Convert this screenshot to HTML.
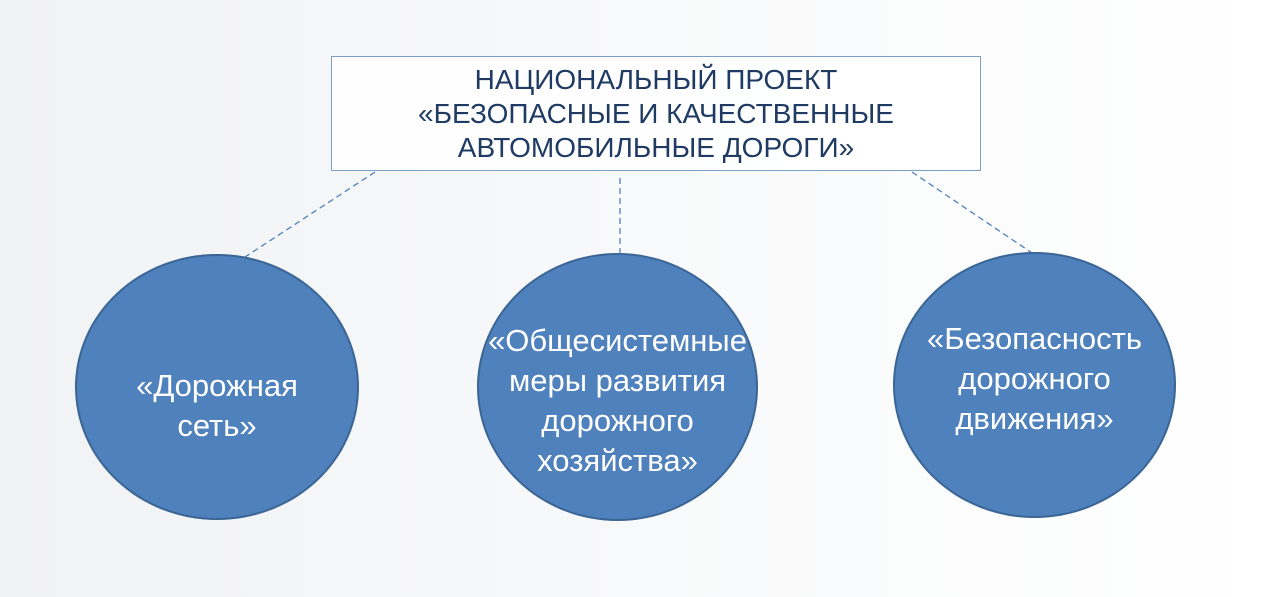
<!DOCTYPE html>
<html><head><meta charset="utf-8"><style>
html,body{margin:0;padding:0;}
body{width:1280px;height:597px;overflow:hidden;background:linear-gradient(90deg,#f1f2f4 0%,#f8f9fa 50%,#ffffff 100%);font-family:"Liberation Sans",sans-serif;position:relative;}
.box{position:absolute;left:331px;top:56px;width:650px;height:115px;border:1.5px solid #7f9ec5;background:rgba(255,255,255,0.85);box-sizing:border-box;display:flex;align-items:center;justify-content:center;text-align:center;color:#1f3a63;font-size:28px;line-height:34px;}
.c{position:absolute;border-radius:50%;background:#4f81bd;border:2px solid #3a6595;box-sizing:border-box;display:flex;align-items:center;justify-content:center;text-align:center;color:#fff;font-size:31px;line-height:40px;white-space:nowrap;}
svg{position:absolute;left:0;top:0;}
</style></head><body>
<svg width="1280" height="597"><g stroke="#4f81bd" stroke-width="1.3" stroke-dasharray="6,4" fill="none">
<line x1="375" y1="172" x2="245" y2="257"/>
<line x1="620" y1="178" x2="620" y2="253"/>
<line x1="912" y1="172" x2="1035" y2="255"/>
</g></svg>
<div class="box">НАЦИОНАЛЬНЫЙ ПРОЕКТ<br>«БЕЗОПАСНЫЕ И КАЧЕСТВЕННЫЕ<br>АВТОМОБИЛЬНЫЕ ДОРОГИ»</div>
<div class="c" style="left:75px;top:254px;width:284px;height:266px;"><div style="margin-top:38px">«Дорожная<br>сеть»</div></div>
<div class="c" style="left:477px;top:253px;width:281px;height:268px;"><div style="margin-top:28px">«Общесистемные<br>меры развития<br>дорожного<br>хозяйства»</div></div>
<div class="c" style="left:893px;top:252px;width:283px;height:266px;"><div style="margin-top:-12px">«Безопасность<br>дорожного<br>движения»</div></div>
</body></html>
